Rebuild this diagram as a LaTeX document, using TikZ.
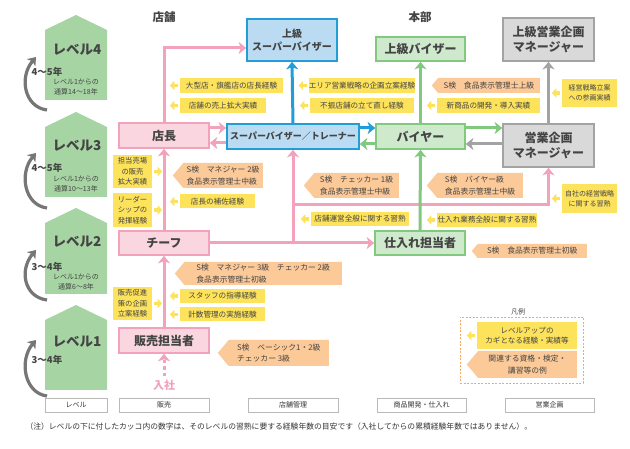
\documentclass[tikz,border=0pt]{standalone}
\usepackage{fontspec}
\setmainfont{Noto Sans CJK JP}
\usetikzlibrary{arrows.meta,shapes.symbols}

\definecolor{pinkline}{RGB}{242,163,187}
\definecolor{pinkfill}{RGB}{250,214,225}
\definecolor{blueline}{RGB}{33,157,216}
\definecolor{bluefill}{RGB}{186,219,242}
\definecolor{greenline}{RGB}{128,201,126}
\definecolor{greenfill}{RGB}{207,233,205}
\definecolor{housegreen}{RGB}{166,213,163}
\definecolor{grayline}{RGB}{163,163,163}
\definecolor{grayfill}{RGB}{217,217,217}
\definecolor{curvegray}{RGB}{118,118,118}
\definecolor{tagyellow}{RGB}{253,226,92}
\definecolor{tagorange}{RGB}{252,201,152}
\definecolor{textgray}{RGB}{68,68,68}
\definecolor{legendorange}{RGB}{244,170,100}

\tikzset{
  post/.style={draw, line width=1.6pt, text=textgray, align=center, inner sep=0pt,
    font=\fontsize{12}{15}\selectfont\bfseries},
  storepost/.style={post, draw=pinkline, fill=pinkfill},
  svpost/.style={post, draw=blueline, fill=bluefill},
  buypost/.style={post, draw=greenline, fill=greenfill},
  mgrpost/.style={post, draw=grayline, fill=grayfill},
  ytag/.style={fill=tagyellow, text=textgray, align=center, inner sep=0pt,
    font=\fontsize{7.6}{10.5}\selectfont},
  otag/.style={shape=signal, signal to=west, signal from=nowhere, signal pointer angle=100,
    fill=tagorange, text=textgray, align=left, inner sep=1pt, anchor=east,
    font=\fontsize{7.8}{11.5}\selectfont},
  ytip/.style={tagyellow, line width=3.5pt, -{Triangle[length=4.5pt,width=9pt]}},
  link/.style={line width=3pt, -{Stealth[length=7.5pt,width=12pt,inset=2pt]}},
  lvarrow/.style={curvegray, line width=3.2pt, -{Stealth[length=7.5pt,width=11pt,inset=2pt]}},
  lvlabel/.style={text=textgray, font=\fontsize{13.5}{15}\selectfont\bfseries},
  lvyear/.style={text=textgray, font=\fontsize{9.5}{11}\selectfont\bfseries},
  lvnote/.style={text=textgray, align=center, font=\fontsize{7}{10}\selectfont},
  catbox/.style={draw=gray!55, line width=0.8pt, fill=white, minimum height=14, inner sep=0pt,
    text=gray!40!black, font=\fontsize{7}{8}\selectfont},
}

\begin{document}
\begin{tikzpicture}[x=1pt,y=-1pt]
\fill[white] (0,0) rectangle (630,449);
\useasboundingbox (0,0) rectangle (630,449);

% level houses
\foreach \t/\b in {15/100, 112/197, 208/294, 305/390}
  \fill[housegreen] (45,{\t+15}) -- (76,\t) -- (107,{\t+15}) -- (107,\b) -- (45,\b) -- cycle;
\foreach \s/\e in {110/57, 208/153, 300/250, 396/340}
  \draw[lvarrow] (47,\s) .. controls (24,{\s-3}) and (19,{\e+20}) .. (36,\e);

\node[lvlabel] (lv4) at (77,50) {レベル4};
\node[lvyear] (lv4y) at (47,72) {4〜5年};
\node[lvnote] (lv4n) at (76,87) {レベル1からの\\通算14〜18年};
\node[lvlabel] (lv3) at (77,146) {レベル3};
\node[lvyear] (lv3y) at (47,168) {4〜5年};
\node[lvnote] (lv3n) at (76,184) {レベル1からの\\通算10〜13年};
\node[lvlabel] (lv2) at (77,242) {レベル2};
\node[lvyear] (lv2y) at (47,267) {3〜4年};
\node[lvnote] (lv2n) at (76,282) {レベル1からの\\通算6〜8年};
\node[lvlabel] (lv1) at (77,342) {レベル1};
\node[lvyear] (lv1y) at (47,360) {3〜4年};

% headers
\node[text=textgray, font=\fontsize{11.5}{13}\selectfont\bfseries] (store) at (164,17) {店舗};
\node[text=textgray, font=\fontsize{11.5}{13}\selectfont\bfseries] (hq) at (420,17) {本部};

% posts
\node[storepost, minimum width=90, minimum height=25] (ten) at (164,135.5) {店長};
\node[storepost, minimum width=90, minimum height=24] (chief) at (164,243) {チーフ};
\node[storepost, minimum width=90, minimum height=25] (sales) at (164,340.5) {販売担当者};
\node[svpost, minimum width=132, minimum height=25, font=\fontsize{9}{11}\selectfont\bfseries] (sv) at (293,136.5) {スーパーバイザー／トレーナー};
\node[svpost, minimum width=90, minimum height=42, font=\fontsize{10}{13}\selectfont\bfseries] (jsv) at (292,40) {上級\\スーパーバイザー};
\node[buypost, minimum width=89, minimum height=25] (buy) at (420.5,136.5) {バイヤー};
\node[buypost, minimum width=89, minimum height=24] (jbuy) at (420.5,49) {上級バイザー};
\node[buypost, minimum width=90, minimum height=24] (shiire) at (420,243) {仕入れ担当者};
\node[mgrpost, minimum width=91, minimum height=43] (jmgr) at (548.5,39.5) {上級営業企画\\マネージャー};
\node[mgrpost, minimum width=91, minimum height=43] (mgr) at (548.5,145.5) {営業企画\\マネージャー};
\node[text=pinkline, font=\fontsize{11}{13}\selectfont\bfseries] (entry) at (164,385) {入社};

% connectors
\draw[link, pinkline] (ten.north) |- (jsv.west |- 0,48);
\draw[link, pinkline] (ten.east |- 0,128) -- (sv.west |- 0,128);
\draw[link, pinkline] (sv.west |- 0,143) -- (ten.east |- 0,143);
\draw[link, pinkline] (chief.north) -- (ten.south);
\draw[link, pinkline] (sales.north) -- (chief.south);
\draw[link, pinkline] (chief.east) -- (shiire.west);
\draw[link, pinkline] (sv.south |- chief.east) -- (sv.south);
\draw[link, pinkline] (sv.south |- 0,205) -| (mgr.south);
\draw[link, pinkline, dash pattern=on 3.5pt off 3pt] (entry.north) -- (sales.south);
\draw[link, blueline] (sv.north) -- (jsv.south);
\draw[link, blueline] (sv.east |- 0,128) -- (buy.west |- 0,128);
\draw[link, greenline] (buy.west |- 0,144) -- (sv.east |- 0,144);
\draw[link, greenline] (buy.north) -- (jbuy.south);
\draw[link, greenline] (shiire.north) -- (buy.south);
\draw[link, greenline] (buy.east |- 0,128) -- (mgr.west |- 0,128);
\draw[link, grayline] (mgr.west |- 0,144) -- (buy.east |- 0,144);
\draw[link, grayline] (mgr.north) -- (jmgr.south);

% experience tags
\node[ytag, minimum width=103, minimum height=15] (y1) at (231.5,85.5) {大型店・旗艦店の店長経験};
\node[ytag, minimum width=86, minimum height=15] (y2) at (223,105.5) {店舗の売上拡大実績};
\node[ytag, minimum width=104, minimum height=15] (y3) at (362,85.5) {エリア営業戦略の企画立案経験};
\node[ytag, minimum width=104, minimum height=15] (y4) at (362,105.5) {不振店舗の立て直し経験};
\node[ytag, minimum width=103, minimum height=15] (y5) at (488.5,105.5) {新商品の開発・導入実績};
\node[ytag, minimum width=55, minimum height=28, font=\fontsize{7}{10}\selectfont] (y6) at (589.5,93) {経営戦略立案\\への参画実績};
\node[ytag, minimum width=39, minimum height=33, font=\fontsize{7.3}{10.5}\selectfont] (y7) at (132.5,171.5) {担当売場\\の販売\\拡大実績};
\node[ytag, minimum width=39, minimum height=34, font=\fontsize{7.3}{10.5}\selectfont] (y8) at (132.5,210) {リーダー\\シップの\\発揮経験};
\node[ytag, minimum width=39, minimum height=33, font=\fontsize{7.3}{10.5}\selectfont] (y9) at (132.5,303.5) {販売促進\\策の企画\\立案経験};
\node[ytag, minimum width=75, minimum height=14] (y10) at (217.5,201.5) {店長の補佐経験};
\node[ytag, minimum width=98, minimum height=14] (y11) at (360,219) {店舗運営全般に関する習熟};
\node[ytag, minimum width=100, minimum height=14] (y12) at (487,220) {仕入れ業務全般に関する習熟};
\node[ytag, minimum width=55, minimum height=29, font=\fontsize{7}{10}\selectfont] (y13) at (589.5,198.5) {自社の経営戦略\\に関する習熟};
\node[ytag, minimum width=85, minimum height=14] (y14) at (222.5,296) {スタッフの指導経験};
\node[ytag, minimum width=85, minimum height=14] (y15) at (222.5,314.5) {計数管理の実施経験};
\foreach \t in {y1,y2,y3,y4,y5,y6,y10,y11,y12,y13,y14,y15}
  \draw[ytip] ([xshift=-2pt]\t.west) -- ++(-8,0);
\foreach \t in {y7,y8,y9}
  \draw[ytip] ([xshift=2pt]\t.east) -- ++(8,0);

% qualification tags
\node[otag, minimum width=108, minimum height=15] (o1) at (540,85.5) {S検　食品表示管理士上級};
\node[otag, minimum width=90, minimum height=25] (o2) at (263,175.5) {S検　マネジャー 2級\\食品表示管理士中級};
\node[otag, minimum width=95, minimum height=25] (o3) at (399,185.5) {S検　チェッカー 1級\\食品表示管理士中級};
\node[otag, minimum width=96, minimum height=25] (o4) at (523,185.5) {S検　バイヤー級\\食品表示管理士中級};
\node[otag, minimum width=115, minimum height=14] (o5) at (587,251) {S検　食品表示管理士初級};
\node[otag, minimum width=167, minimum height=23] (o6) at (342,273.5) {S検　マネジャー 3級　チェッカー 2級\\食品表示管理士初級};
\node[otag, minimum width=111, minimum height=26] (o7) at (329,353) {S検　ベーシック1・2級\\チェッカー 3級};

% legend
\node[text=textgray, font=\fontsize{7}{8}\selectfont] (legtitle) at (518,312) {凡例};
\node[draw=legendorange, line width=0.8pt, dash pattern=on 2pt off 1.5pt, minimum width=123, minimum height=66] (legend) at (521.5,350) {};
\node[ytag, minimum width=100, minimum height=27] (yl) at (527,335.5) {レベルアップの\\カギとなる経験・実績等};
\draw[ytip] ([xshift=-2pt]yl.west) -- ++(-8,0);
\node[otag, minimum width=110, minimum height=27, align=center] (ol) at (577,364.5) {関連する資格・検定・\\講習等の例};

% category row
\node[catbox, minimum width=62] (catlv) at (76,405) {レベル};
\node[catbox, minimum width=90] (catsales) at (164,405) {販売};
\node[catbox, minimum width=90] (catstore) at (293,405) {店舗管理};
\node[catbox, minimum width=89] (catbuy) at (421.5,405) {商品開発・仕入れ};
\node[catbox, minimum width=89] (catplan) at (549.5,405) {営業企画};

\node[anchor=west, text=gray!40!black, font=\fontsize{7.8}{9}\selectfont] (note) at (22,427) {（注）レベルの下に付したカッコ内の数字は、そのレベルの習熟に要する経験年数の目安です（入社してからの累積経験年数ではありません）。};
\end{tikzpicture}
\end{document}
